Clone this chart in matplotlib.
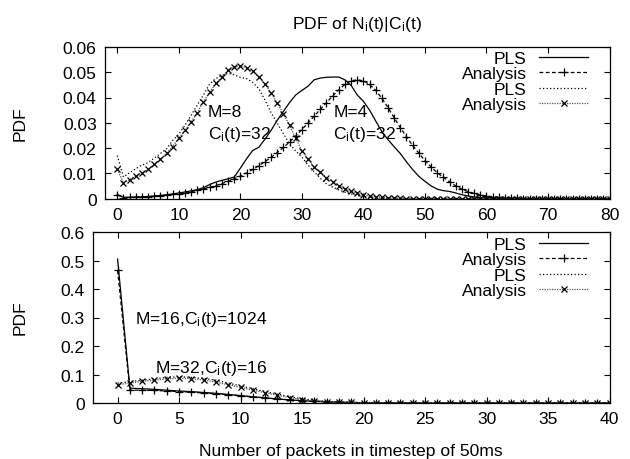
import numpy as np
import matplotlib
matplotlib.use("Agg")
import matplotlib.pyplot as plt
from matplotlib.ticker import FuncFormatter

plt.rcParams['font.family'] = ['Liberation Sans', 'DejaVu Sans']
plt.rcParams['font.size'] = 12.6
plt.rcParams['mathtext.default'] = 'regular'

# top panel: packets 0..80
x_top = list(range(0, 81))
m4_pls = [0.0015, 0.0005, 0.0005, 0.0006, 0.0007, 0.0008, 0.001, 0.0012, 0.0015, 0.0018,
          0.0022, 0.0026, 0.003, 0.0035, 0.0043, 0.0055, 0.0065, 0.0072, 0.0078, 0.0085,
          0.012, 0.0157, 0.019, 0.0203, 0.0235, 0.027, 0.031, 0.0345, 0.038, 0.041,
          0.0428, 0.0445, 0.047, 0.0477, 0.048, 0.0481, 0.0481, 0.047, 0.0448, 0.041,
          0.0385, 0.035, 0.0307, 0.0265, 0.0233, 0.0205, 0.0178, 0.0145, 0.0115, 0.0088,
          0.0068, 0.005, 0.0037, 0.0031, 0.0028, 0.0022, 0.0015, 0.001, 0.0006, 0.0004,
          0.0002, 0.0001, 0, 0, 0, 0, 0, 0, 0, 0,
          0, 0, 0, 0, 0, 0, 0, 0, 0, 0, 0]
m4_ana = [0.0015, 0.0003, 0.0004, 0.0005, 0.0006, 0.0007, 0.0009, 0.0011, 0.0013, 0.0016,
          0.0019, 0.0023, 0.0027, 0.0032, 0.0038, 0.0044, 0.0051, 0.0059, 0.0068, 0.0078,
          0.0089, 0.0101, 0.0115, 0.013, 0.0146, 0.0163, 0.0182, 0.0202, 0.0224, 0.0248,
          0.0273, 0.0299, 0.0326, 0.0353, 0.038, 0.0406, 0.043, 0.0452, 0.0466, 0.047,
          0.0466, 0.0452, 0.0428, 0.0397, 0.036, 0.032, 0.028, 0.0245, 0.021, 0.018,
          0.015, 0.0125, 0.0102, 0.0084, 0.0066, 0.005, 0.0037, 0.0027, 0.002, 0.0014,
          0.001, 0.0007, 0.0005, 0.0003, 0.0002, 0.0001, 0, 0, 0, 0,
          0, 0, 0, 0, 0, 0, 0, 0, 0, 0, 0]
m8_pls = [0.017, 0.0085, 0.0102, 0.0118, 0.0132, 0.0142, 0.016, 0.0178, 0.0197, 0.023,
          0.0255, 0.029, 0.033, 0.037, 0.041, 0.0453, 0.0475, 0.0488, 0.0495, 0.049,
          0.048, 0.0475, 0.046, 0.0435, 0.039, 0.034, 0.0298, 0.0257, 0.0215, 0.0188,
          0.0164, 0.0132, 0.0106, 0.008, 0.0058, 0.0045, 0.0034, 0.0025, 0.0018, 0.0012,
          0.0008, 0.0005, 0.0003, 0.0002, 0.0001, 0, 0, 0, 0, 0,
          0, 0, 0, 0, 0, 0, 0, 0, 0, 0,
          0, 0, 0, 0, 0, 0, 0, 0, 0, 0,
          0, 0, 0, 0, 0, 0, 0, 0, 0, 0, 0]
m8_ana = [0.0115, 0.0062, 0.0075, 0.0089, 0.0102, 0.0115, 0.0135, 0.0155, 0.018, 0.0205,
          0.024, 0.027, 0.0304, 0.034, 0.0384, 0.042, 0.0456, 0.048, 0.0507, 0.052,
          0.0525, 0.0518, 0.0503, 0.0482, 0.0453, 0.0418, 0.0378, 0.0335, 0.029, 0.0238,
          0.019, 0.0155, 0.0125, 0.0103, 0.0083, 0.0066, 0.0051, 0.0038, 0.0028, 0.002,
          0.0014, 0.001, 0.0007, 0.0005, 0.0003, 0.0002, 0.0001, 0, 0, 0,
          0, 0, 0, 0, 0, 0, 0, 0, 0, 0,
          0, 0, 0, 0, 0, 0, 0, 0, 0, 0,
          0, 0, 0, 0, 0, 0, 0, 0, 0, 0, 0]

# bottom panel: packets 0..40
x_bot = list(range(0, 41))
m16_pls = [0.505, 0.052, 0.050, 0.048, 0.045, 0.042, 0.040, 0.037, 0.034, 0.030,
           0.026, 0.022, 0.018, 0.014, 0.011, 0.008, 0.006, 0.004, 0.003, 0.002,
           0.001, 0.0005, 0.0003, 0.0002, 0.0001, 0, 0, 0, 0, 0,
           0, 0, 0, 0, 0, 0, 0, 0, 0, 0, 0]
m16_ana = [0.465, 0.045, 0.045, 0.044, 0.042, 0.040, 0.038, 0.035, 0.032, 0.029,
           0.025, 0.021, 0.018, 0.014, 0.011, 0.008, 0.006, 0.004, 0.003, 0.002,
           0.001, 0.0005, 0.0003, 0.0002, 0.0001, 0, 0, 0, 0, 0,
           0, 0, 0, 0, 0, 0, 0, 0, 0, 0, 0]
m32_pls = [0.070, 0.075, 0.080, 0.085, 0.090, 0.092, 0.090, 0.086, 0.080, 0.070,
           0.060, 0.050, 0.040, 0.031, 0.022, 0.015, 0.010, 0.006, 0.004, 0.002,
           0.001, 0.0005, 0, 0, 0, 0, 0, 0, 0, 0,
           0, 0, 0, 0, 0, 0, 0, 0, 0, 0, 0]
m32_ana = [0.064, 0.070, 0.076, 0.080, 0.085, 0.087, 0.085, 0.081, 0.073, 0.064,
           0.055, 0.045, 0.036, 0.027, 0.019, 0.012, 0.008, 0.005, 0.003, 0.002,
           0.001, 0.0005, 0, 0, 0, 0, 0, 0, 0, 0,
           0, 0, 0, 0, 0, 0, 0, 0, 0, 0, 0]

W, H = 630, 460
fig = plt.figure(figsize=(W / 100, H / 100), dpi=100)

def px_axes(l, t, r, b):
    return fig.add_axes([l / W, 1 - b / H, (r - l) / W, (b - t) / H])

ax1 = px_axes(105, 48, 609.5, 199.5)
ax2 = px_axes(93, 233, 609.5, 404)

fmt = FuncFormatter(lambda v, p: '%g' % round(v, 4))

def draw(ax, x, pls_a, ana_a, pls_b, ana_b):
    ax.plot(x, pls_a, color='black', lw=0.9, label='PLS')
    ax.plot(x, ana_a, color='black', lw=0.9, dashes=(3, 2), marker='+', ms=6, mew=0.9,
            label='Analysis')
    ax.plot(x, pls_b, color='black', lw=0.9, dashes=(1, 1.8), label='PLS')
    ax.plot(x, ana_b, color='#555555', lw=0.9, dashes=(1, 1), marker='x', ms=5, mew=0.9,
            mec='black', label='Analysis')
    for s in ax.spines.values():
        s.set_linewidth(0.9)
    ax.tick_params(direction='in', top=True, right=True, length=4, width=0.8, pad=6)
    ax.yaxis.set_major_formatter(fmt)

draw(ax1, x_top, m4_pls, m4_ana, m8_pls, m8_ana)
draw(ax2, x_bot, m16_pls, m16_ana, m32_pls, m32_ana)

ax1.set_xlim(-2, 80)
ax1.set_ylim(0, 0.06)
ax1.set_xticks(range(0, 81, 10))
ax1.set_yticks(np.arange(0, 0.061, 0.01))
ax2.set_xlim(-2, 40)
ax2.set_ylim(0, 0.6)
ax2.set_xticks(range(0, 41, 5))
ax2.set_yticks(np.arange(0, 0.61, 0.1))

# y labels sit at the same figure x for both panels
fig.text(20 / W, 1 - 124 / H, 'PDF', rotation=90, ha='center', va='center')
fig.text(20 / W, 1 - 318 / H, 'PDF', rotation=90, ha='center', va='center')

ax1.set_title('PDF of $N_i(t)|C_i(t)$', fontsize=12.6, pad=14)
ax2.set_xlabel('Number of packets in timestep of 50ms', labelpad=12)

ax1.text(14.7, 0.0344, 'M=8', va='center')
ax1.text(14.7, 0.0256, '$C_i(t)$=32', va='center')
ax1.text(35.1, 0.0344, 'M=4', va='center')
ax1.text(35.1, 0.0256, '$C_i(t)$=32', va='center')
ax2.text(1.4, 0.295, 'M=16,$C_i(t)$=1024', va='center')
ax2.text(3.05, 0.125, 'M=32,$C_i(t)$=16', va='center')

for ax, top in ((ax1, 52), (ax2, 238)):
    ax.legend(loc='upper right', bbox_to_anchor=(588 / W, 1 - top / H),
              bbox_transform=fig.transFigure, frameon=False, markerfirst=False,
              borderpad=0, borderaxespad=0, labelspacing=0.0, handlelength=2.8,
              handletextpad=0.7)

fig.savefig('out.png', dpi=100)
